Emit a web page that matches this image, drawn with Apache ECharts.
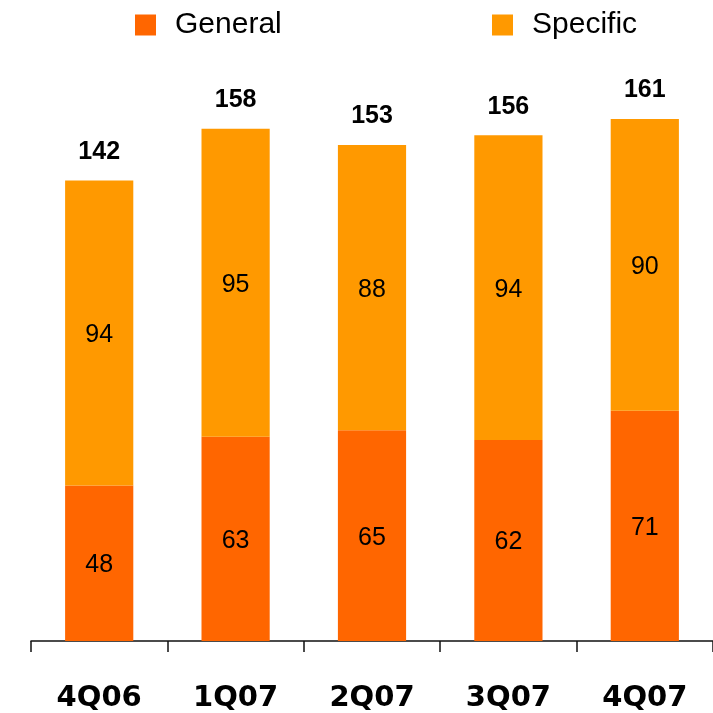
<!DOCTYPE html>
<html>
<head>
<meta charset="utf-8">
<style>
  html, body { margin: 0; padding: 0; background: #ffffff; }
  #chart { width: 713px; height: 713px; }
</style>
<script src="https://cdn.jsdelivr.net/npm/echarts@6/dist/echarts.min.js"></script>
</head>
<body>
<div id="chart"></div>
<script>
// Quarterly provisions, split into general and specific parts
const quarters = ['4Q06', '1Q07', '2Q07', '3Q07', '4Q07'];
const generalValues = [48, 63, 65, 62, 71];
const specificValues = [94, 95, 88, 94, 90];
const totalValues = [142, 158, 153, 156, 161];

const FONT = "'Liberation Sans', Arial, sans-serif";
const COLOR_GENERAL = '#FF6600';
const COLOR_SPECIFIC = '#FF9900';

const chart = echarts.init(document.getElementById('chart'), null, { renderer: 'canvas' });

const legendBase = {
  top: 10,
  padding: 0,
  orient: 'horizontal',
  icon: 'rect',
  itemWidth: 21,
  itemHeight: 21,
  selectedMode: false,
  textStyle: {
    fontFamily: FONT,
    fontSize: 30,
    color: '#000000',
    padding: [0, 0, 0, 14]
  }
};

chart.setOption({
  animation: false,
  backgroundColor: '#ffffff',
  legend: [
    Object.assign({}, legendBase, { left: 135, data: ['General'] }),
    Object.assign({}, legendBase, { left: 492, data: ['Specific'] })
  ],
  grid: { left: 31, right: -6, top: 25, bottom: 71, containLabel: false },
  xAxis: {
    type: 'category',
    data: quarters,
    boundaryGap: true,
    axisLine: { show: true, lineStyle: { color: '#111111', width: 1.5 } },
    axisTick: { show: true, length: 11, inside: false, lineStyle: { color: '#111111', width: 1.5 } },
    axisLabel: {
      margin: 43,
      fontFamily: "'DejaVu Sans', sans-serif",
      fontWeight: 'bold',
      fontSize: 29,
      color: '#000000'
    }
  },
  yAxis: {
    type: 'value',
    min: 0,
    max: 190,
    show: false,
    splitLine: { show: false }
  },
  series: [
    {
      name: 'General',
      type: 'bar',
      stack: 'total',
      data: generalValues,
      barWidth: '50%',
      itemStyle: { color: COLOR_GENERAL },
      label: {
        show: true,
        position: 'inside',
        offset: [0, 2],
        fontFamily: FONT,
        fontSize: 25,
        color: '#000000'
      }
    },
    {
      name: 'Specific',
      type: 'bar',
      stack: 'total',
      data: specificValues,
      barWidth: '50%',
      itemStyle: { color: COLOR_SPECIFIC },
      label: {
        show: true,
        position: 'inside',
        offset: [0, 2],
        fontFamily: FONT,
        fontSize: 25,
        color: '#000000'
      }
    },
    {
      // bar totals written above each stack
      name: 'Total',
      type: 'scatter',
      data: totalValues,
      symbolSize: 0,
      silent: true,
      itemStyle: { opacity: 1 },
      label: {
        show: true,
        position: 'top',
        distance: 16,
        opacity: 1,
        fontFamily: FONT,
        fontWeight: 'bold',
        fontSize: 25,
        color: '#000000'
      }
    }
  ]
});
</script>
</body>
</html>
